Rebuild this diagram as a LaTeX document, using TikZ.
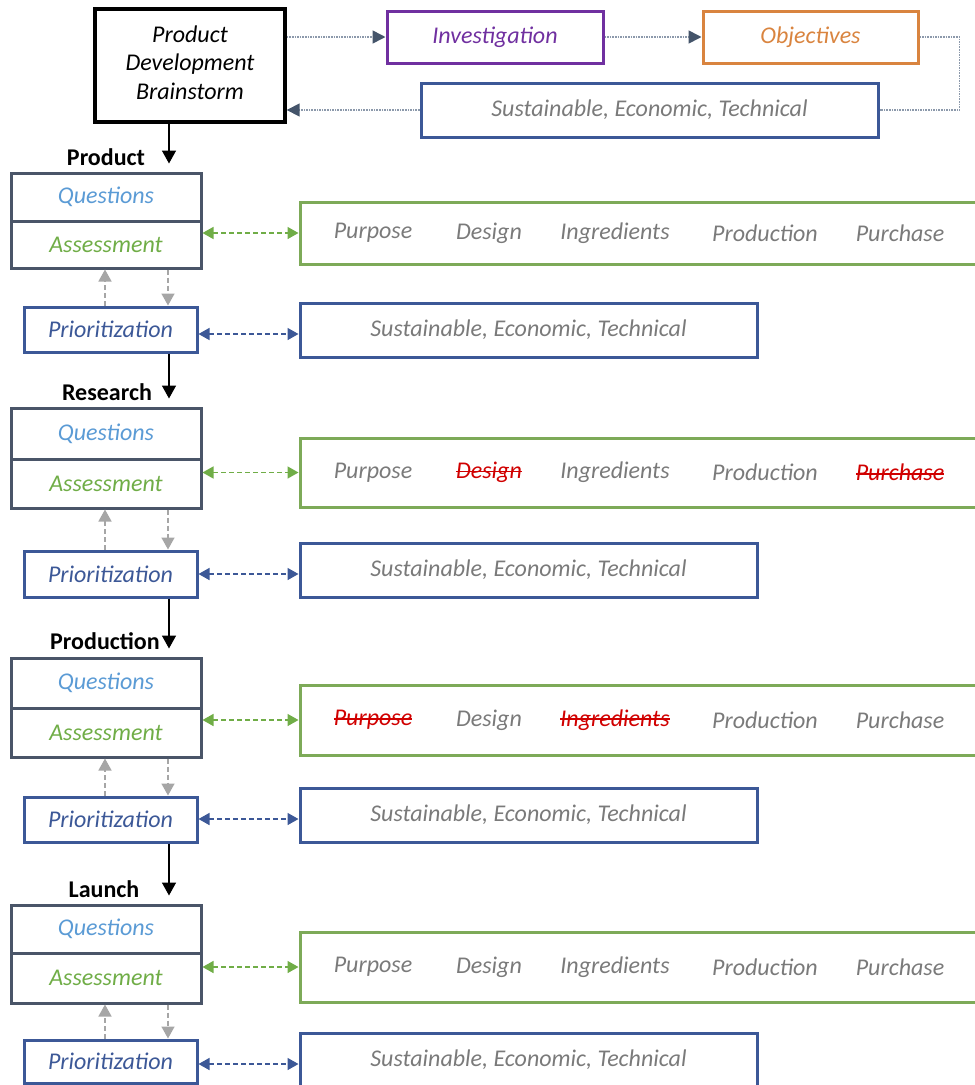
\documentclass[tikz,border=0pt]{standalone}
\usepackage{fontspec}
\setmainfont{Carlito}
\usetikzlibrary{arrows.meta}
\definecolor{cpurple}{HTML}{7030A0}
\definecolor{corange}{HTML}{D9843F}
\definecolor{cblue}{HTML}{3C5897}
\definecolor{cslate}{HTML}{4A5568}
\definecolor{cqblue}{HTML}{5B9BD5}
\definecolor{cgreen}{HTML}{70AD47}
\definecolor{cgbox}{HTML}{7DAA58}
\definecolor{cgrey}{HTML}{7A7A7A}
\definecolor{cred}{HTML}{D00000}
\definecolor{cdot}{HTML}{8C99AB}
\definecolor{cdark}{HTML}{44546A}
\definecolor{clgrey}{HTML}{A6A6A6}
\newsavebox\stkbox
\newcommand\stk[1]{\textcolor{cred}{\sbox\stkbox{#1}\rlap{\rule[0.26em]{\wd\stkbox}{1.6pt}}\usebox\stkbox}}
\tikzset{
  box/.style={draw, line width=3pt, inner sep=0pt},
  qa/.style={box, draw=cslate, minimum width=190},
  pbox/.style={box, draw=cblue, text=cblue, minimum width=173},
  gbox/.style={box, draw=cgbox, minimum width=690},
  sbox/.style={box, draw=cblue, text=cgrey, minimum width=457, minimum height=54},
  word/.style={text=cgrey, inner sep=0pt},
  lbl/.style={font=\fontsize{24}{28}\selectfont\upshape\bfseries, text=black, inner sep=0pt},
  tdot/.style={draw=cdot, line width=1.6pt, densely dotted, -{Triangle[length=13pt,width=13pt,color=cdark]}},
  garrow/.style={draw=cgreen, line width=1.5pt, dash pattern=on 5pt off 3pt, {Triangle[length=11pt,width=12pt]}-{Triangle[length=11pt,width=12pt]}},
  barrow/.style={draw=cblue, line width=1.5pt, dash pattern=on 5pt off 3pt, {Triangle[length=11pt,width=12pt]}-{Triangle[length=11pt,width=12pt]}},
  grarrow/.style={draw=clgrey, line width=1.5pt, dash pattern=on 5pt off 3pt, -{Triangle[length=12pt,width=13pt]}},
  blk/.style={draw=black, line width=1.5pt, -{Triangle[length=13pt,width=14pt]}, shorten >=8pt}
}
\newcommand\stage[9]{%
  \node[qa, text=cqblue, minimum height={#3-#2}] (Q#1) at (106,{(#2+#3)/2}) {Questions};
  \node[qa, text=cgreen, minimum height={#4-#3}] (A#1) at (106,{(#3+#4)/2}) {Assessment};
  \node[pbox, minimum height={#6-#5}] (P#1) at (110.5,{(#5+#6)/2}) {Prioritization};
  \node[gbox, minimum height={#8-#7}] (G#1) at (645,{(#7+#8)/2}) {};
  \node[sbox] (S#1) at (528.5,{#9+27}) {Sustainable, Economic, Technical};
  \coordinate (by#1) at (0,{#9+31});
  \draw[garrow] (A#1.east |- G#1.west) -- (G#1.west);
  \draw[barrow] (P#1.east |- by#1) -- (S#1.west |- by#1);
  \draw[grarrow] (P#1.north -| gxa) -- (A#1.south -| gxa);
  \draw[grarrow] (A#1.south -| gxb) -- (P#1.north -| gxb);
}
\newcommand\words[6]{%
  \node[word] (W#1a) at (G#1.center -| wxa) {#2};
  \node[word] (W#1b) at (G#1.center -| wxb) {#3};
  \node[word] (W#1c) at (G#1.center -| wxc) {#4};
  \node[word] (W#1d) at (G#1.center -| wxd) {#5};
  \node[word] (W#1e) at (G#1.center -| wxe) {#6};
}
\begin{document}
\begin{tikzpicture}[x=1pt,y=-1pt,font=\fontsize{24}{28.5}\selectfont\itshape]
\useasboundingbox (0,0) rectangle (975,1085);
\clip (0,0) rectangle (975,1085);
\coordinate (gxa) at (105,0);
\coordinate (gxb) at (168,0);
\coordinate (bx) at (169,0);
\coordinate (wxa) at (373,0);
\coordinate (wxb) at (489,0);
\coordinate (wxc) at (615,0);
\coordinate (wxd) at (765,0);
\coordinate (wxe) at (900,0);
% top
\node[box, draw=black, line width=3.4pt, text=black, minimum width=190, minimum height=113, align=center, text depth=6pt] (B) at (190,65.5) {Product\\Development\\Brainstorm};
\node[box, draw=cpurple, text=cpurple, minimum width=216, minimum height=52] (I) at (495,37) {Investigation};
\node[box, draw=corange, text=corange, minimum width=215, minimum height=52] (O) at (810.5,37) {Objectives};
\node[sbox] (ST) at (649.5,110) {Sustainable, Economic, Technical};
\draw[tdot] (B.east |- I.west) -- (I.west);
\draw[tdot] (I.east) -- (O.west);
\draw[draw=cdot, line width=1.6pt, densely dotted] (O.east) -- ++(40,0) |- (ST.east);
\draw[tdot] (ST.west) -- (B.east |- ST.west);
% stages
\stage{1}{173}{221}{268}{307}{352}{202}{264}{303}
\stage{2}{408}{459}{508}{551}{597}{438}{507}{543}
\stage{3}{658}{708}{757}{797}{842}{685}{755}{788}
\stage{4}{905}{953}{1003}{1040}{1083}{932}{1002}{1033}
\words{1}{Purpose}{Design}{Ingredients}{Production}{Purchase}
\words{2}{Purpose}{\stk{Design}}{Ingredients}{Production}{\stk{Purchase}}
\words{3}{\stk{Purpose}}{Design}{\stk{Ingredients}}{Production}{Purchase}
\words{4}{Purpose}{Design}{Ingredients}{Production}{Purchase}
% labels and main arrows
\node[lbl] (L1) at (106,157) {Product};
\node[lbl] (L2) at (107,392) {Research};
\node[lbl] (L3) at (105,641) {Production};
\node[lbl] (L4) at (104,889) {Launch};
\draw[blk] (B.south -| bx) -- (Q1.north -| bx);
\draw[blk] (P1.south -| bx) -- (Q2.north -| bx);
\draw[blk] (P2.south -| bx) -- (Q3.north -| bx);
\draw[blk] (P3.south -| bx) -- (Q4.north -| bx);
\end{tikzpicture}
\end{document}
